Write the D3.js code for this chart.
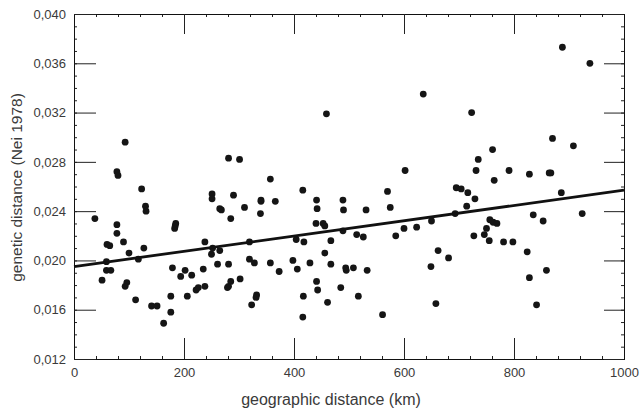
<!DOCTYPE html>
<html>
<head>
<meta charset="utf-8">
<script src="https://cdn.jsdelivr.net/npm/d3@7"></script>
<style>
  body { margin: 0; background: #fff; }
  svg text { font-family: "Liberation Sans", Arial, sans-serif; fill: #3a3a3a; }
</style>
</head>
<body>
<div id="chart"></div>
<script>
// geographic distance (km) vs genetic distance (Nei 1978), one entry per pair
const distKm = [
  38, 78, 78, 78, 80, 93, 60, 65, 90, 100, 127, 117, 59, 59, 67, 51, 96, 93, 112, 141,
  151, 163, 176, 176, 179, 123, 130, 131, 185, 184, 183, 194, 202, 214, 206, 222, 226, 238, 235, 238,
  250, 252, 265, 261, 251, 251, 265, 268, 281, 301, 285, 290, 310, 281, 285, 281, 279, 302, 319, 319,
  328, 323, 332, 331, 340, 340, 339, 357, 366, 357, 373, 398, 406, 404, 418, 416, 417, 416, 429, 441,
  442, 440, 453, 456, 441, 443, 459, 456, 467, 467, 461, 489, 490, 489, 485, 494, 495, 508, 514, 526,
  517, 531, 533, 561, 570, 575, 585, 600, 602, 623, 635, 650, 649, 658, 662, 681, 693, 695, 704, 716,
  714, 723, 727, 729, 731, 735, 746, 750, 755, 756, 762, 769, 761, 764, 781, 791, 798, 824, 828, 828,
  835, 841, 853, 859, 864, 867, 870, 886, 888, 908, 924, 938
]
const geneDist = [
  0.0234, 0.0229, 0.0222, 0.0272, 0.0269, 0.0296, 0.0213, 0.0212, 0.0215, 0.0206, 0.0210, 0.0201, 0.0199, 0.0192, 0.0192, 0.0184, 0.0182, 0.0179, 0.0168, 0.0163,
  0.0163, 0.0149, 0.0158, 0.0171, 0.0194, 0.0258, 0.0244, 0.0240, 0.0230, 0.0228, 0.0226, 0.0187, 0.0192, 0.0188, 0.0171, 0.0176, 0.0178, 0.0179, 0.0193, 0.0215,
  0.0205, 0.0210, 0.0208, 0.0197, 0.0254, 0.0250, 0.0242, 0.0241, 0.0283, 0.0282, 0.0234, 0.0253, 0.0243, 0.0197, 0.0183, 0.0179, 0.0178, 0.0185, 0.0215, 0.0201,
  0.0198, 0.0164, 0.0172, 0.0170, 0.0249, 0.0248, 0.0238, 0.0266, 0.0248, 0.0198, 0.0191, 0.0200, 0.0193, 0.0217, 0.0215, 0.0257, 0.0171, 0.0154, 0.0198, 0.0249,
  0.0242, 0.0230, 0.0230, 0.0228, 0.0183, 0.0176, 0.0319, 0.0206, 0.0216, 0.0197, 0.0166, 0.0249, 0.0241, 0.0224, 0.0178, 0.0194, 0.0192, 0.0194, 0.0221, 0.0219,
  0.0171, 0.0241, 0.0192, 0.0156, 0.0256, 0.0243, 0.0220, 0.0226, 0.0273, 0.0227, 0.0335, 0.0232, 0.0195, 0.0165, 0.0208, 0.0202, 0.0238, 0.0259, 0.0258, 0.0255,
  0.0244, 0.0320, 0.0220, 0.0250, 0.0273, 0.0282, 0.0221, 0.0226, 0.0216, 0.0233, 0.0231, 0.0230, 0.0290, 0.0265, 0.0215, 0.0273, 0.0215, 0.0207, 0.0270, 0.0186,
  0.0237, 0.0164, 0.0232, 0.0192, 0.0271, 0.0271, 0.0299, 0.0255, 0.0373, 0.0293, 0.0238, 0.0360
]
// regression line end points
const fitX = [0, 1000]
const fitY = [0.0195, 0.0257]

const xTicks = [0, 200, 400, 600, 800, 1000]
const yTicks = [0.012, 0.016, 0.020, 0.024, 0.028, 0.032, 0.036, 0.040]

const W = 641, H = 410
const PLOT = { LEFT: 74, RIGHT: 624, TOP: 14, BOTTOM: 359 }

const svg = d3.select('#chart')
    .append('svg')
    .attr('width', W)
    .attr('height', H)

const x = d3.scaleLinear().domain([0, 1000]).range([PLOT.LEFT, PLOT.RIGHT])
const y = d3.scaleLinear().domain([0.012, 0.040]).range([PLOT.BOTTOM, PLOT.TOP])

const comma = d3.formatLocale({ decimal: ',', thousands: '.', grouping: [3], currency: ['', ''] })
const yFmt = comma.format('.3f')
const xFmt = d3.format('d')

const xMinor = d3.range(0, 1001, 40)
const yMinor = d3.range(12, 41, 1).map(v => v / 1000)

function styleAxis(g) {
    g.selectAll('path.domain').attr('stroke', '#111').attr('stroke-width', 1)
    g.selectAll('line').attr('stroke', '#222').attr('stroke-width', 1)
    g.selectAll('text').attr('font-size', 13).attr('fill', '#3a3a3a')
        .attr('font-family', '"Liberation Sans", Arial, sans-serif')
}

// minor ticks on all four sides
svg.append('g').attr('transform', `translate(0,${PLOT.BOTTOM})`)
    .call(d3.axisBottom(x).tickValues(xMinor).tickSize(-3).tickFormat('')).call(styleAxis)
svg.append('g').attr('transform', `translate(0,${PLOT.TOP})`)
    .call(d3.axisTop(x).tickValues(xMinor).tickSize(-3).tickFormat('')).call(styleAxis)
svg.append('g').attr('transform', `translate(${PLOT.LEFT},0)`)
    .call(d3.axisLeft(y).tickValues(yMinor).tickSize(-3).tickFormat('')).call(styleAxis)
svg.append('g').attr('transform', `translate(${PLOT.RIGHT},0)`)
    .call(d3.axisRight(y).tickValues(yMinor).tickSize(-3).tickFormat('')).call(styleAxis)

// major ticks + labels
svg.append('g').attr('transform', `translate(0,${PLOT.BOTTOM})`)
    .call(d3.axisBottom(x).tickValues(xTicks).tickSizeInner(-21).tickSizeOuter(0).tickPadding(9).tickFormat(xFmt))
    .call(styleAxis)
svg.append('g').attr('transform', `translate(0,${PLOT.TOP})`)
    .call(d3.axisTop(x).tickValues(xTicks).tickSizeInner(-20).tickSizeOuter(0).tickFormat(''))
    .call(styleAxis)
svg.append('g').attr('transform', `translate(${PLOT.LEFT},0)`)
    .call(d3.axisLeft(y).tickValues(yTicks).tickSizeInner(-22).tickSizeOuter(0).tickPadding(8).tickFormat(yFmt))
    .call(styleAxis)
svg.append('g').attr('transform', `translate(${PLOT.RIGHT},0)`)
    .call(d3.axisRight(y).tickValues(yTicks).tickSizeInner(-20).tickSizeOuter(0).tickFormat(''))
    .call(styleAxis)

// points
const pts = distKm.map((d, i) => ({ km: d, gd: geneDist[i] }))
svg.append('g')
    .selectAll('circle')
    .data(pts)
    .enter().append('circle')
    .attr('cx', d => x(d.km))
    .attr('cy', d => y(d.gd))
    .attr('r', 3.4)
    .attr('fill', '#151515')

// regression line
svg.append('line')
    .attr('x1', x(fitX[0])).attr('y1', y(fitY[0]))
    .attr('x2', x(fitX[1])).attr('y2', y(fitY[1]))
    .attr('stroke', '#111')
    .attr('stroke-width', 2.8)

// axis titles
svg.append('text')
    .attr('x', 331)
    .attr('y', 405)
    .attr('font-size', 16)
    .attr('text-anchor', 'middle')
    .text('geographic distance (km)')

svg.append('text')
    .attr('transform', `translate(22,${(PLOT.TOP + PLOT.BOTTOM) / 2 + 1}) rotate(-90)`)
    .attr('font-size', 15.5)
    .attr('text-anchor', 'middle')
    .text('genetic distance (Nei 1978)')
</script>
</body>
</html>
